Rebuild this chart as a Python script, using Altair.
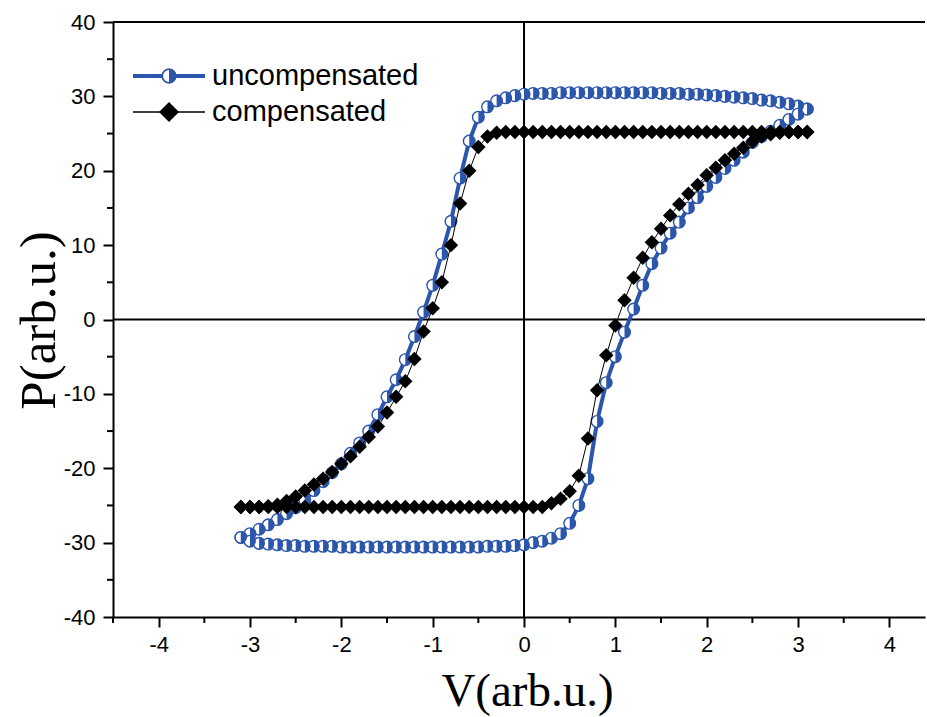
import altair as alt
import pandas as pd

# ---------------- data ----------------
V_DOWN = [3.1, 3.0, 2.9, 2.8, 2.7, 2.6, 2.5, 2.4, 2.3, 2.2,
          2.1, 2.0, 1.9, 1.8, 1.7, 1.6, 1.5, 1.4, 1.3, 1.2,
          1.1, 1.0, 0.9, 0.8, 0.7, 0.6, 0.5, 0.4, 0.3, 0.2,
          0.1, 0.0, -0.1, -0.2, -0.3, -0.4, -0.5, -0.6, -0.7, -0.8,
          -0.9, -1.0, -1.1, -1.2, -1.3, -1.4, -1.5, -1.6, -1.7, -1.8,
          -1.9, -2.0, -2.1, -2.2, -2.3, -2.4, -2.5, -2.6, -2.7, -2.8,
          -2.9, -3.0, -3.1]
V_UP = [-3.1, -3.0, -2.9, -2.8, -2.7, -2.6, -2.5, -2.4, -2.3, -2.2,
        -2.1, -2.0, -1.9, -1.8, -1.7, -1.6, -1.5, -1.4, -1.3, -1.2,
        -1.1, -1.0, -0.9, -0.8, -0.7, -0.6, -0.5, -0.4, -0.3, -0.2,
        -0.1, 0.0, 0.1, 0.2, 0.3, 0.4, 0.5, 0.6, 0.7, 0.8,
        0.9, 1.0, 1.1, 1.2, 1.3, 1.4, 1.5, 1.6, 1.7, 1.8,
        1.9, 2.0, 2.1, 2.2, 2.3, 2.4, 2.5, 2.6, 2.7, 2.8,
        2.9, 3.0, 3.1]

UNC_DOWN = [28.3, 28.7, 29.0, 29.2, 29.4, 29.5, 29.7, 29.8, 29.9, 30.0,
            30.1, 30.2, 30.3, 30.3, 30.4, 30.4, 30.4, 30.5, 30.5, 30.5,
            30.5, 30.5, 30.5, 30.5, 30.5, 30.5, 30.5, 30.5, 30.4, 30.4,
            30.4, 30.3, 30.1, 29.8, 29.4, 28.6, 27.2, 24.0, 19.0, 13.2,
            8.8, 4.6, 1.0, -2.3, -5.4, -8.1, -10.4, -12.8, -15.0, -16.6,
            -18.0, -19.4, -20.6, -21.8, -23.0, -24.3, -25.3, -26.1, -26.9, -27.6,
            -28.2, -28.8, -29.3]
UNC_UP = [-29.3, -29.8, -30.1, -30.2, -30.3, -30.4, -30.4, -30.5, -30.5, -30.5,
          -30.5, -30.6, -30.6, -30.6, -30.6, -30.6, -30.6, -30.6, -30.6, -30.6,
          -30.6, -30.6, -30.6, -30.6, -30.6, -30.6, -30.6, -30.5, -30.5, -30.5,
          -30.4, -30.3, -30.0, -29.8, -29.4, -28.8, -27.4, -25.0, -21.4, -13.7,
          -8.5, -5.0, -1.7, 1.4, 4.6, 7.5, 9.6, 11.6, 13.1, 15.0,
          16.4, 17.9, 19.1, 20.3, 21.4, 22.5, 23.8, 24.6, 25.3, 26.1,
          26.9, 27.6, 28.3]

COMP_DOWN = [25.2, 25.2, 25.2, 25.2, 25.2, 25.2, 25.2, 25.2, 25.2, 25.2,
             25.2, 25.2, 25.2, 25.2, 25.2, 25.2, 25.2, 25.2, 25.2, 25.2,
             25.2, 25.2, 25.2, 25.2, 25.2, 25.2, 25.2, 25.2, 25.2, 25.2,
             25.2, 25.2, 25.2, 25.2, 25.1, 24.6, 23.2, 20.0, 15.6, 10.0,
             5.0, 1.5, -1.6, -5.3, -8.3, -10.4, -12.5, -14.4, -15.8, -17.1,
             -18.4, -19.4, -20.5, -21.4, -22.2, -23.0, -23.8, -24.4, -24.9, -25.1,
             -25.2, -25.2, -25.2]
COMP_UP = [-25.2, -25.2, -25.2, -25.2, -25.2, -25.2, -25.2, -25.2, -25.2, -25.2,
           -25.2, -25.2, -25.2, -25.2, -25.2, -25.2, -25.2, -25.2, -25.2, -25.2,
           -25.2, -25.2, -25.2, -25.2, -25.2, -25.2, -25.2, -25.2, -25.2, -25.2,
           -25.2, -25.2, -25.2, -25.2, -24.7, -24.1, -23.1, -21.0, -16.0, -9.5,
           -4.8, -0.8, 2.6, 5.6, 8.3, 10.4, 12.2, 14.0, 15.5, 16.9,
           18.1, 19.4, 20.4, 21.4, 22.3, 23.1, 23.9, 24.6, 24.9, 25.1,
           25.2, 25.2, 25.2]

X_TICKS = [-4, -3, -2, -1, 0, 1, 2, 3, 4]
X_MINOR = [-4.5, -3.5, -2.5, -1.5, -0.5, 0.5, 1.5, 2.5, 3.5]
Y_TICKS = [-40, -30, -20, -10, 0, 10, 20, 30, 40]
Y_MINOR = [-35, -25, -15, -5, 5, 15, 25, 35]
SERIES = ["uncompensated", "compensated"]

# ---------------- styling ----------------
BLUE = "#2b56ab"
W, H = 812, 595
SANS = "Liberation Sans"
SERIF = "Liberation Serif"


def loop(vd, pd_, vu, pu):
    v = list(vd) + list(vu)
    p = list(pd_) + list(pu)
    return pd.DataFrame({"V": v, "P": p, "i": list(range(len(v)))})


unc = loop(V_DOWN, UNC_DOWN, V_UP, UNC_UP)
comp = loop(V_DOWN, COMP_DOWN, V_UP, COMP_UP)

xscale = alt.Scale(domain=[-4.5, 4.39], nice=False, zero=False)
yscale = alt.Scale(domain=[-40, 40], nice=False, zero=False)

xaxis = alt.Axis(values=X_TICKS, labelExpr="'' + datum.value", grid=False,
                 labelFont=SANS, labelFontSize=22, labelColor="black", labelPadding=7,
                 tickSize=10, tickWidth=2, tickColor="black",
                 domainWidth=2, domainColor="black",
                 title="V(arb.u.)", titleFont=SERIF, titleFontSize=47,
                 titleFontWeight="normal", titleColor="black",
                 titleX=414, titleY=88, titleAlign="center", titleBaseline="alphabetic")
yaxis = alt.Axis(values=Y_TICKS, labelExpr="'' + datum.value", grid=False,
                 labelFont=SANS, labelFontSize=22, labelColor="black", labelPadding=8,
                 tickSize=10, tickWidth=2, tickColor="black",
                 domainWidth=2, domainColor="black",
                 title="P(arb.u.)", titleFont=SERIF, titleFontSize=51,
                 titleFontWeight="normal", titleColor="black",
                 titleX=-74, titleY=298, titleAngle=270, titleAlign="center",
                 titleBaseline="middle")


def X(field="V"):
    return alt.X(f"{field}:Q", scale=xscale, axis=xaxis)


def Y(field="P"):
    return alt.Y(f"{field}:Q", scale=yscale, axis=yaxis)


# zero lines
zero_v = alt.Chart(pd.DataFrame({"V": [0]})).mark_rule(color="black", strokeWidth=2).encode(
    x=X("V"), y=alt.value(0), y2=alt.value(H))
zero_h = alt.Chart(pd.DataFrame({"P": [0]})).mark_rule(color="black", strokeWidth=2).encode(
    y=Y("P"), x=alt.value(0), x2=alt.value(W))
top_border = alt.Chart(pd.DataFrame({"P": [40]})).mark_rule(color="black", strokeWidth=2).encode(
    y=Y("P"), x=alt.value(0), x2=alt.value(W))

# minor ticks
xminor = alt.Chart(pd.DataFrame({"V": X_MINOR})).mark_rule(color="black", strokeWidth=2).encode(
    x=X("V"), y=alt.value(H), y2=alt.value(H + 6))
yminor = alt.Chart(pd.DataFrame({"P": Y_MINOR})).mark_rule(color="black", strokeWidth=2).encode(
    y=Y("P"), x=alt.value(0), x2=alt.value(-6))

HALF = "M 0 -1 A 1 1 0 0 1 0 1 Z"

unc_line = alt.Chart(unc).mark_line(color=BLUE, strokeWidth=4).encode(
    x=X(), y=Y(), order="i:Q")
unc_circ = alt.Chart(unc).mark_point(shape="circle", filled=True, fill="white",
                                     stroke=BLUE, strokeWidth=1.4, size=135, opacity=1).encode(
    x=X(), y=Y())
unc_half = alt.Chart(unc).mark_point(shape=HALF, filled=True, fill=BLUE,
                                     strokeWidth=0, size=135, opacity=1).encode(
    x=X(), y=Y())

comp_line = alt.Chart(comp).mark_line(color="black", strokeWidth=1).encode(
    x=X(), y=Y(), order="i:Q")
comp_pts = alt.Chart(comp).mark_point(shape="diamond", filled=True, fill="black",
                                      strokeWidth=0, size=210, opacity=1).encode(
    x=X(), y=Y())

# legend (drawn in pixel space of the plot area)
leg_df = pd.DataFrame({"s": SERIES})
LX0, LX1, LXM, LXT = 20, 92, 56, 99
LY1, LY2 = 54, 90
leg_l1 = alt.Chart(leg_df).mark_rule(color=BLUE, strokeWidth=4).encode(
    x=alt.value(LX0), x2=alt.value(LX1), y=alt.value(LY1))
leg_c1 = alt.Chart(leg_df).mark_point(shape="circle", filled=True, fill="white", stroke=BLUE,
                                      strokeWidth=1.6, size=180, opacity=1).encode(
    x=alt.value(LXM), y=alt.value(LY1))
leg_h1 = alt.Chart(leg_df).mark_point(shape=HALF, filled=True, fill=BLUE, strokeWidth=0,
                                      size=180, opacity=1).encode(
    x=alt.value(LXM), y=alt.value(LY1))
leg_t1 = alt.Chart(pd.DataFrame({"s": [SERIES[0]]})).mark_text(
    align="left", baseline="middle", font=SANS, fontSize=29, color="black").encode(
    x=alt.value(LXT), y=alt.value(LY1), text="s:N")
leg_l2 = alt.Chart(leg_df).mark_rule(color="black", strokeWidth=1).encode(
    x=alt.value(LX0), x2=alt.value(LX1), y=alt.value(LY2))
leg_d2 = alt.Chart(leg_df).mark_point(shape="diamond", filled=True, fill="black", strokeWidth=0,
                                      size=380, opacity=1).encode(
    x=alt.value(LXM), y=alt.value(LY2))
leg_t2 = alt.Chart(pd.DataFrame({"s": [SERIES[1]]})).mark_text(
    align="left", baseline="middle", font=SANS, fontSize=29, color="black").encode(
    x=alt.value(LXT), y=alt.value(LY2), text="s:N")

chart = alt.layer(
    zero_v, zero_h, top_border, xminor, yminor,
    unc_line, unc_circ, unc_half, comp_line, comp_pts,
    leg_l1, leg_c1, leg_h1, leg_t1, leg_l2, leg_d2, leg_t2,
).properties(
    width=W, height=H,
    autosize=alt.AutoSizeParams(type="none"),
    padding={"left": 113, "top": 22, "right": 2, "bottom": 100},
    background="white",
).configure_view(stroke=None)

chart.save("out.html", embed_options={"renderer": "svg", "actions": False})
